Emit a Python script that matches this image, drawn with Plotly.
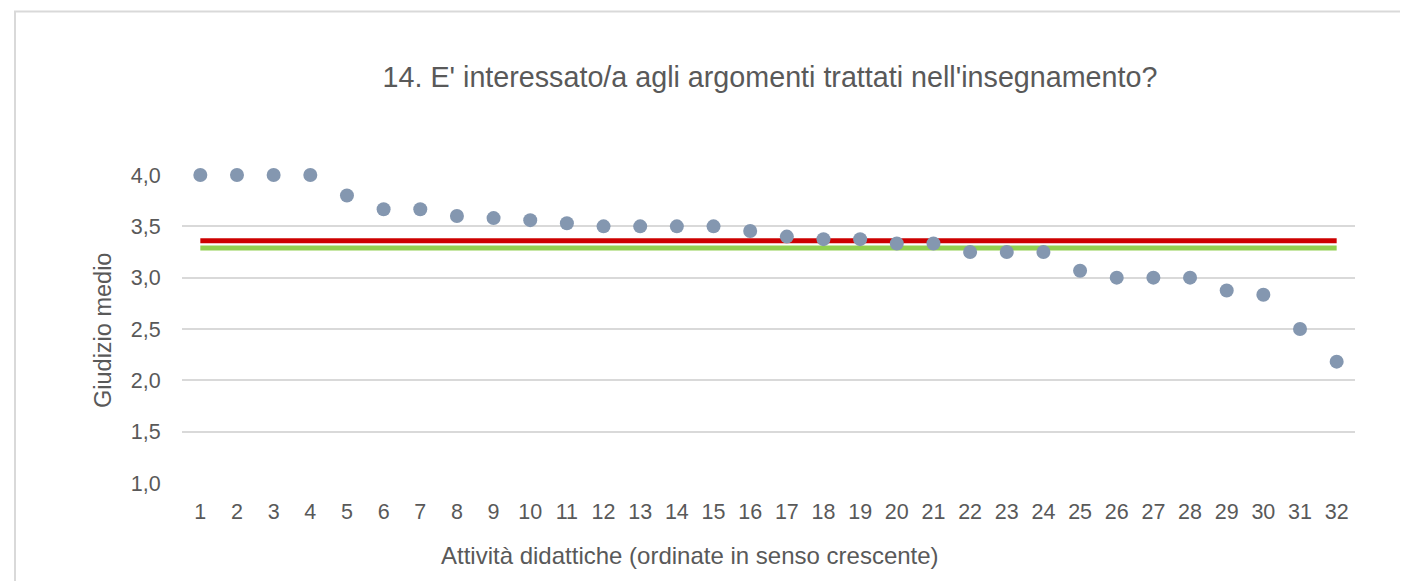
import plotly.graph_objects as go

categories = list(range(1, 33))
giudizio_medio = [4.0, 4.0, 4.0, 4.0, 3.8, 3.667, 3.667, 3.6, 3.58, 3.56, 3.53,
                  3.5, 3.5, 3.5, 3.5, 3.455, 3.4, 3.375, 3.375, 3.333, 3.333,
                  3.25, 3.25, 3.25, 3.067, 3.0, 3.0, 3.0, 2.875, 2.833, 2.5, 2.182]
media_rossa = 3.36
media_verde = 3.29
y_ticks = [1.0, 1.5, 2.0, 2.5, 3.0, 3.5, 4.0]

title_text = "14. E' interessato/a agli argomenti trattati nell'insegnamento?"
x_title = "Attività didattiche (ordinate in senso crescente)"
y_title = "Giudizio medio"

FONT = "Arial, 'Liberation Sans', sans-serif"
TXT = "#595959"

OFF = 8  # default body margin of the page
W, H = 1408, 581
L, T = 182 - OFF, 175 - OFF
pw, ph = 1173, 308
R = W - L - pw
B = H - T - ph

def px_x(p):
    return (p - OFF - L) / pw

def px_y(p):
    return (T + ph - (p - OFF)) / ph

fig = go.Figure()
fig.add_trace(go.Scatter(x=[categories[0], categories[-1]], y=[media_rossa, media_rossa],
                         mode="lines", line=dict(color="#CC0000", width=5), hoverinfo="skip",
                         showlegend=False))
fig.add_trace(go.Scatter(x=[categories[0], categories[-1]], y=[media_verde, media_verde],
                         mode="lines", line=dict(color="#92D050", width=5), hoverinfo="skip",
                         showlegend=False))
fig.add_trace(go.Scatter(x=categories, y=giudizio_medio, mode="markers", cliponaxis=False,
                         marker=dict(color="#8497B0", size=14, line=dict(width=0)),
                         showlegend=False))

fig.update_layout(
    width=W, height=H,
    margin=dict(l=L, r=R, t=T, b=B),
    paper_bgcolor="white", plot_bgcolor="white",
    separators=",.",
    font=dict(family=FONT, color=TXT, size=21),
    title=dict(text=title_text, font=dict(size=28.7, color=TXT, family=FONT),
               x=px_x(770), xref="paper", xanchor="center",
               y=1 - (77 - OFF) / H, yref="container", yanchor="middle"),
    xaxis=dict(range=[0.5, 32.5], tickmode="array", tickvals=categories,
               ticktext=[str(c) for c in categories], showgrid=False, zeroline=False,
               showline=False, ticks="outside", ticklen=9, tickcolor="rgba(0,0,0,0)",
               tickfont=dict(size=21.5, color=TXT)),
    yaxis=dict(range=[1.0, 4.0], tickmode="array", tickvals=y_ticks, tickformat=".1f",
               showgrid=True, gridcolor="#D9D9D9", gridwidth=1.5, zeroline=False,
               showline=False, ticks="outside", ticklen=16, tickcolor="rgba(0,0,0,0)",
               tickfont=dict(size=21.5, color=TXT)),
    annotations=[
        dict(text=x_title, xref="paper", yref="paper", x=px_x(690), y=px_y(555),
             xanchor="center", yanchor="middle", showarrow=False,
             font=dict(size=24, color=TXT, family=FONT)),
        dict(text=y_title, xref="paper", yref="paper", x=px_x(103), y=px_y(331),
             xanchor="center", yanchor="middle", showarrow=False, textangle=-90,
             font=dict(size=23.5, color=TXT, family=FONT)),
    ],
    shapes=[
        dict(type="rect", xref="paper", yref="paper", x0=px_x(15), x1=px_x(1430),
             y0=px_y(620), y1=px_y(11.5), line=dict(color="#D9D9D9", width=2),
             fillcolor="rgba(0,0,0,0)", layer="below"),
    ],
)

fig.write_html("out.html")
